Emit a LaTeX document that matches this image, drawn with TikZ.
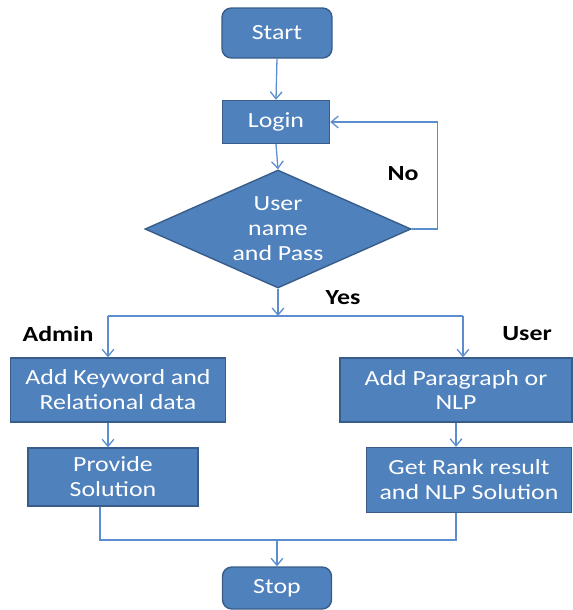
\documentclass[tikz,border=0pt]{standalone}
\usepackage{fontspec}
\setmainfont{Carlito}[FakeStretch=1.2]
\usepackage{tikz}
\usetikzlibrary{shapes.geometric,arrows.meta,positioning}
\definecolor{boxfill}{HTML}{4F81BD}
\definecolor{boxline}{HTML}{385D8A}
\definecolor{connline}{HTML}{5B8DCF}

\begin{document}
\begin{tikzpicture}[x=0.03cm,y=-0.03cm,
  box/.style={draw=boxline, fill=boxfill, line width=1.2pt, text=white, align=center,
    inner sep=0pt, font=\fontsize{18.4}{21.3}\selectfont},
  term/.style={box, rounded corners=8pt},
  decide/.style={box, diamond, aspect=2.25},
  conn/.style={draw=connline, line width=1.1pt},
  flow/.style={conn, -{Straight Barb[length=6pt,width=10pt]}},
  tag/.style={font=\fontsize{18.4}{21.3}\selectfont\bfseries}]
\useasboundingbox (0,0) rectangle (573,610);
% Start, login and check
\node[term, minimum width=3.3cm, minimum height=1.5cm] (start) at (277,33) {Start};
\node[box, minimum width=3.21cm, minimum height=1.29cm] (login) at (276,122) {Login};
\node[decide, minimum width=7.98cm, minimum height=3.54cm] (check) at (278,229) {User\\name\\and Pass};
\draw[flow] (start.south) -- (login.north);
\draw[flow] (login.south) -- (check.north);
\draw[flow] (check.east) -- ++(26,0) |- (login.east);
\node[tag] (no) at (403,174) {No};
% Admin / User branches
\coordinate (split) at (278,316);
\coordinate (brL) at (108,316);
\coordinate (brR) at (463,316);
\draw[flow] (check.south) -- (split);
\draw[conn] (brL) -- (brR);
\node[tag] (yes) at (343,298) {Yes};
\node[tag] (admin) at (58,334) {Admin};
\node[tag] (user) at (527,334) {User};
\node[box, minimum width=6.45cm, minimum height=1.92cm] (addkw) at (118,390) {Add Keyword and\\Relational data};
\node[box, minimum width=5.1cm, minimum height=1.74cm] (provide) at (113,477) {Provide\\Solution};
\node[box, minimum width=6.96cm, minimum height=1.92cm] (addpara) at (456,390) {Add Paragraph or\\NLP};
\node[box, minimum width=6.15cm, minimum height=1.95cm] (getrank) at (469,480) {Get Rank result\\and NLP Solution};
\draw[flow] (brL) -- (brL |- addkw.north);
\draw[flow] (brR) -- (brR |- addpara.north);
\draw[flow] (addkw.south -| brL) -- (provide.north -| brL);
\draw[flow] (addpara.south) -- (addpara.south |- getrank.north);
% Merge and stop
\coordinate (mL) at (100,540);
\coordinate (merge) at (277,540);
\node[term, minimum width=3.27cm, minimum height=1.26cm] (stop) at (277,588) {Stop};
\draw[conn] (provide.south -| mL) -- (mL) -- (merge);
\draw[conn] (getrank.south -| addpara.south) |- (merge);
\draw[flow] (merge) -- (stop.north);
\end{tikzpicture}
\end{document}
